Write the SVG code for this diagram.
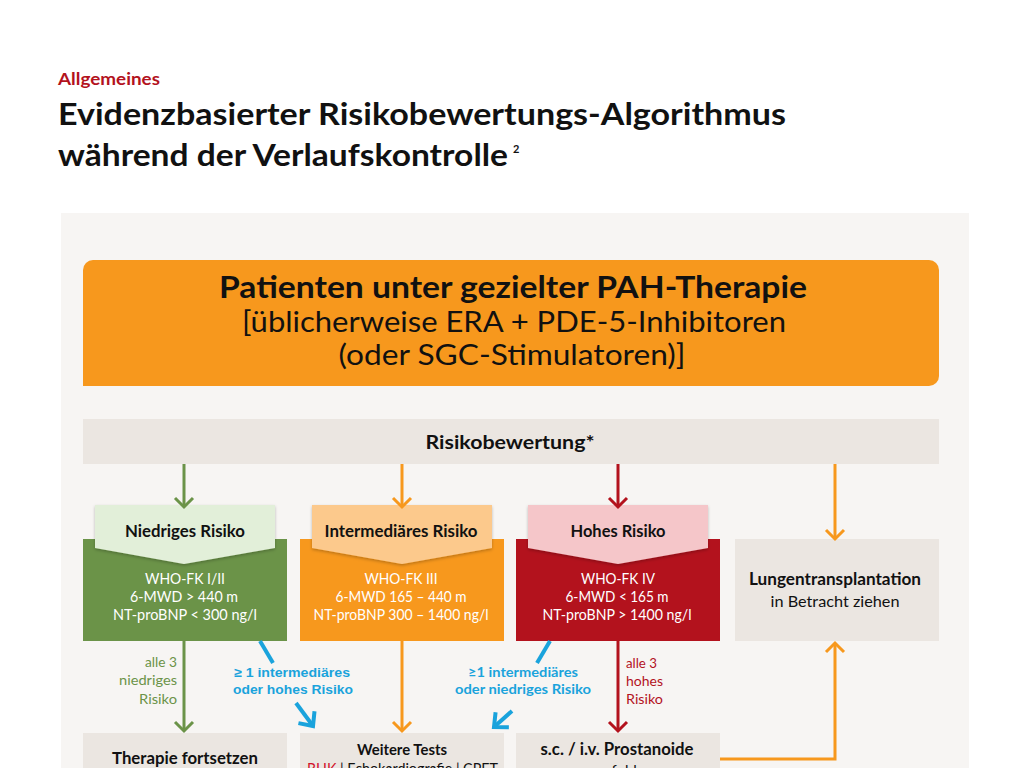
<svg xmlns="http://www.w3.org/2000/svg" width="1024" height="768" viewBox="0 0 1024 768">
<style>
.hum{font-family:Lato,"Noto Sans",sans-serif}
.b{font-weight:700}
.hel{font-family:"Liberation Sans",Arial,sans-serif;font-weight:700}
.w{fill:#ffffff}
.k{fill:#111111}
.mid{text-anchor:middle}
.grey{fill:#ebe6e1}
.ln{fill:none;stroke-width:3}
.bl{fill:none;stroke:#1aa3dc;stroke-width:4}
</style>
<defs>
<filter id="sh" x="-10%" y="-20%" width="120%" height="150%">
<feDropShadow dx="0" dy="1.5" stdDeviation="1.5" flood-color="#000" flood-opacity="0.25"/>
</filter>
<marker id="aG" viewBox="-12 -12 24 24" markerWidth="24" markerHeight="24" markerUnits="userSpaceOnUse" refX="0" refY="0" orient="auto"><path d="M-9,-9 L0,0 L-9,9" fill="none" stroke="#6b9348" stroke-width="3"/></marker>
<marker id="aO" viewBox="-12 -12 24 24" markerWidth="24" markerHeight="24" markerUnits="userSpaceOnUse" refX="0" refY="0" orient="auto"><path d="M-9,-9 L0,0 L-9,9" fill="none" stroke="#f7981d" stroke-width="3"/></marker>
<marker id="aR" viewBox="-12 -12 24 24" markerWidth="24" markerHeight="24" markerUnits="userSpaceOnUse" refX="0" refY="0" orient="auto"><path d="M-9,-9 L0,0 L-9,9" fill="none" stroke="#b3121d" stroke-width="3"/></marker>
<marker id="aB" viewBox="-14 -14 28 28" markerWidth="28" markerHeight="28" markerUnits="userSpaceOnUse" refX="0" refY="0" orient="auto"><path d="M-11,-10 L0,0 L-11,10" fill="none" stroke="#1aa3dc" stroke-width="4"/></marker>
</defs>
<rect width="1024" height="768" fill="#ffffff"/>
<g id="title">
<text class="hum b" x="58" y="85" font-size="17" fill="#b3121d" textLength="102" lengthAdjust="spacingAndGlyphs">Allgemeines</text>
<text class="hum b k" x="58" y="125" font-size="30" textLength="728" lengthAdjust="spacingAndGlyphs">Evidenzbasierter Risikobewertungs-Algorithmus</text>
<text class="hum b k" x="58" y="166" font-size="30" textLength="450" lengthAdjust="spacingAndGlyphs">während der Verlaufskontrolle</text>
<text class="hum b k" x="513" y="153" font-size="11">2</text>
</g>
<rect id="panel" x="61" y="213" width="908" height="560" fill="#f7f5f3"/>
<g id="n-patients">
<path d="M93,260 H929 A10,10 0 0 1 939,270 V376 A10,10 0 0 1 929,386 H83 V270 A10,10 0 0 1 93,260 Z" fill="#f7981d"/>
<text class="hum b k mid" x="513" y="298" font-size="31" textLength="588" lengthAdjust="spacingAndGlyphs">Patienten unter gezielter PAH-Therapie</text>
<text class="hum k mid" x="514" y="332" font-size="28" textLength="544" lengthAdjust="spacingAndGlyphs">[üblicherweise ERA + PDE-5-Inhibitoren</text>
<text class="hum k mid" x="512" y="365" font-size="28" textLength="347" lengthAdjust="spacingAndGlyphs">(oder SGC-Stimulatoren)]</text>
</g>
<g id="n-risiko">
<rect class="grey" x="83" y="419" width="856" height="45"/>
<text class="hum b k mid" x="510" y="449" font-size="19" textLength="169" lengthAdjust="spacingAndGlyphs">Risikobewertung*</text>
</g>
<g id="n-niedrig">
<rect x="83" y="539" width="204" height="102" fill="#6b9348"/>
<polygon points="95,505 275,505 275,548 184,564 95,548" fill="#e2efd9" filter="url(#sh)"/>
<text class="hum b k mid" x="185" y="537" font-size="17" textLength="120" lengthAdjust="spacingAndGlyphs">Niedriges Risiko</text>
<text class="hum w mid" x="185" y="584" font-size="14.5" textLength="80" lengthAdjust="spacingAndGlyphs">WHO-FK I/II</text>
<text class="hum w mid" x="184" y="602" font-size="14.5" textLength="108" lengthAdjust="spacingAndGlyphs">6-MWD &gt; 440 m</text>
<text class="hum w mid" x="185" y="620" font-size="14.5" textLength="144" lengthAdjust="spacingAndGlyphs">NT-proBNP &lt; 300 ng/l</text>
</g>
<g id="n-intermediaer">
<rect x="300" y="539" width="204" height="102" fill="#f7981d"/>
<polygon points="312,505 492,505 492,548 402,564 312,548" fill="#fcc98c" filter="url(#sh)"/>
<text class="hum b k mid" x="401" y="537" font-size="17" textLength="153" lengthAdjust="spacingAndGlyphs">Intermediäres Risiko</text>
<text class="hum w mid" x="401" y="584" font-size="14.5" textLength="73" lengthAdjust="spacingAndGlyphs">WHO-FK III</text>
<text class="hum w mid" x="401" y="602" font-size="14.5" textLength="131" lengthAdjust="spacingAndGlyphs">6-MWD 165 – 440 m</text>
<text class="hum w mid" x="401" y="620" font-size="14.5" textLength="175" lengthAdjust="spacingAndGlyphs">NT-proBNP 300 – 1400 ng/l</text>
</g>
<g id="n-hoch">
<rect x="516" y="539" width="204" height="102" fill="#b3121d"/>
<polygon points="528,505 708,505 708,548 618,564 528,548" fill="#f5c6c9" filter="url(#sh)"/>
<text class="hum b k mid" x="618" y="537" font-size="17" textLength="95" lengthAdjust="spacingAndGlyphs">Hohes Risiko</text>
<text class="hum w mid" x="618" y="584" font-size="14.5" textLength="74" lengthAdjust="spacingAndGlyphs">WHO-FK IV</text>
<text class="hum w mid" x="617" y="602" font-size="14.5" textLength="103" lengthAdjust="spacingAndGlyphs">6-MWD &lt; 165 m</text>
<text class="hum w mid" x="617" y="620" font-size="14.5" textLength="149" lengthAdjust="spacingAndGlyphs">NT-proBNP &gt; 1400 ng/l</text>
</g>
<g id="n-lunge">
<rect class="grey" x="735" y="539" width="204" height="102"/>
<text class="hum b k mid" x="835" y="585" font-size="16.5" textLength="172" lengthAdjust="spacingAndGlyphs">Lungentransplantation</text>
<text class="hum k mid" x="835" y="607" font-size="16" textLength="129" lengthAdjust="spacingAndGlyphs">in Betracht ziehen</text>
</g>
<g id="n-fortsetzen">
<rect class="grey" x="83" y="733" width="204" height="45"/>
<text class="hum b k mid" x="185" y="764" font-size="17" textLength="146" lengthAdjust="spacingAndGlyphs">Therapie fortsetzen</text>
</g>
<g id="n-tests">
<rect class="grey" x="300" y="733" width="204" height="45"/>
<text class="hum b k mid" x="402" y="755" font-size="15" textLength="90" lengthAdjust="spacingAndGlyphs">Weitere Tests</text>
<text class="hum k" x="307" y="774" font-size="15" textLength="191" lengthAdjust="spacingAndGlyphs"><tspan fill="#d2112b">RHK</tspan> | Echokardiografie | CPET</text>
</g>
<g id="n-prostanoide">
<rect class="grey" x="516" y="733" width="204" height="45"/>
<text class="hum b k mid" x="617" y="755" font-size="16.5" textLength="153" lengthAdjust="spacingAndGlyphs">s.c. / i.v. Prostanoide</text>
<text class="hum k mid" x="618" y="776" font-size="15">empfohlen</text>
</g>
<g id="connectors">
<line class="ln" x1="184" y1="464" x2="184" y2="507" stroke="#6b9348" marker-end="url(#aG)"/>
<line class="ln" x1="402" y1="464" x2="402" y2="507" stroke="#f7981d" marker-end="url(#aO)"/>
<line class="ln" x1="618" y1="464" x2="618" y2="507" stroke="#b3121d" marker-end="url(#aR)"/>
<line class="ln" x1="835" y1="464" x2="835" y2="539" stroke="#f7981d" marker-end="url(#aO)"/>
<line class="ln" x1="184" y1="641" x2="184" y2="731" stroke="#6b9348" marker-end="url(#aG)"/>
<line class="ln" x1="402" y1="641" x2="402" y2="731" stroke="#f7981d" marker-end="url(#aO)"/>
<line class="ln" x1="618" y1="641" x2="618" y2="731" stroke="#b3121d" marker-end="url(#aR)"/>
<polyline class="ln" points="720,759 835,759 835,643" stroke="#f7981d" marker-end="url(#aO)"/>
<line class="bl" x1="260" y1="641" x2="273" y2="663"/>
<line class="bl" x1="296" y1="703" x2="313" y2="726" marker-end="url(#aB)"/>
<line class="bl" x1="550" y1="641" x2="537" y2="663"/>
<line class="bl" x1="512" y1="711" x2="494" y2="727" marker-end="url(#aB)"/>
<g id="labels">
<text class="hum" x="177" y="667" font-size="14" fill="#6b9348" text-anchor="end" textLength="32" lengthAdjust="spacingAndGlyphs">alle 3</text>
<text class="hum" x="177" y="685" font-size="14" fill="#6b9348" text-anchor="end" textLength="58" lengthAdjust="spacingAndGlyphs">niedriges</text>
<text class="hum" x="177" y="704" font-size="14" fill="#6b9348" text-anchor="end" textLength="38" lengthAdjust="spacingAndGlyphs">Risiko</text>
<text class="hum" x="626" y="668" font-size="14" fill="#b3121d" textLength="31" lengthAdjust="spacingAndGlyphs">alle 3</text>
<text class="hum" x="626" y="686" font-size="14" fill="#b3121d" textLength="37" lengthAdjust="spacingAndGlyphs">hohes</text>
<text class="hum" x="626" y="704" font-size="14" fill="#b3121d" textLength="37" lengthAdjust="spacingAndGlyphs">Risiko</text>
<text class="hel" x="234" y="677" font-size="13" fill="#1aa3dc" textLength="116" lengthAdjust="spacingAndGlyphs">≥ 1 intermediäres</text>
<text class="hel" x="233" y="694" font-size="13" fill="#1aa3dc" textLength="120" lengthAdjust="spacingAndGlyphs">oder hohes Risiko</text>
<text class="hum b" x="468" y="677" font-size="13.5" fill="#1aa3dc" textLength="110" lengthAdjust="spacingAndGlyphs">≥1 intermediäres</text>
<text class="hum b" x="455" y="694" font-size="13.5" fill="#1aa3dc" textLength="136" lengthAdjust="spacingAndGlyphs">oder niedriges Risiko</text>
</g>
</g>
</svg>
